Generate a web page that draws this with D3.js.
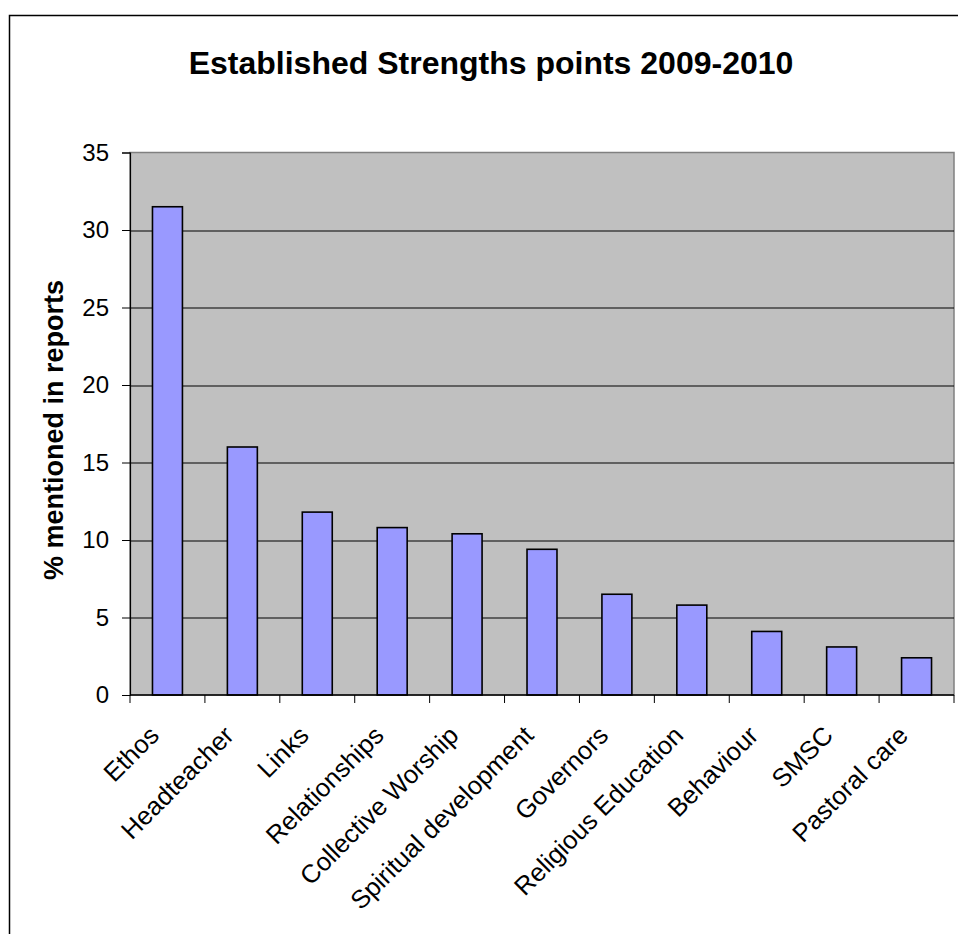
<!DOCTYPE html>
<html>
<head>
<meta charset="utf-8">
<title>Established Strengths points 2009-2010</title>
<script src="https://cdn.jsdelivr.net/npm/d3@7"></script>
<style>
  body { margin: 0; background: #fff; }
  svg { display: block; font-family: "Liberation Sans", Arial, sans-serif; }
</style>
</head>
<body>
<svg id="chart" width="958" height="934"></svg>
<script>
var categories = ["Ethos", "Headteacher", "Links", "Relationships", "Collective Worship",
  "Spiritual development", "Governors", "Religious Education", "Behaviour", "SMSC", "Pastoral care"];
var values = [31.5, 16.0, 11.8, 10.8, 10.4, 9.4, 6.5, 5.8, 4.1, 3.1, 2.4];
var yTicks = [0, 5, 10, 15, 20, 25, 30, 35];

var svg = d3.select("#chart"),
    margin = {top: 152.5, right: 4, bottom: 239, left: 130},
    width = +svg.attr("width") - margin.left - margin.right,
    height = +svg.attr("height") - margin.top - margin.bottom;

// outer chart frame, runs off the right and bottom edges
svg.append("rect")
    .attr("x", 9.5).attr("y", 15.5)
    .attr("width", 1000).attr("height", 1000)
    .attr("fill", "#fff")
    .attr("stroke", "#000")
    .attr("stroke-width", 1.5);

svg.append("text")
    .attr("x", 491).attr("y", 74)
    .attr("text-anchor", "middle")
    .attr("font-size", 32)
    .attr("font-weight", "bold")
    .text("Established Strengths points 2009-2010");

var g = svg.append("g").attr("transform", "translate(" + margin.left + "," + margin.top + ")");

var x = d3.scaleBand()
    .domain(categories)
    .range([0, width])
    .paddingInner(0.6)
    .paddingOuter(0.3);

var y = d3.scaleLinear()
    .domain([0, 35])
    .range([height, 0]);

// plot area
g.append("rect")
    .attr("width", width).attr("height", height)
    .attr("fill", "#c0c0c0")
    .attr("stroke", "#808080")
    .attr("stroke-width", 1.5);

g.selectAll("line.grid")
  .data(yTicks.filter(function(d) { return d > 0 && d < 35; }))
  .enter().append("line")
    .attr("class", "grid")
    .attr("x1", 0).attr("x2", width)
    .attr("y1", function(d) { return Math.round(y(d)) + 0.5; })
    .attr("y2", function(d) { return Math.round(y(d)) + 0.5; })
    .attr("stroke", "#000")
    .attr("stroke-width", 1);

g.selectAll("rect.bar")
  .data(values)
  .enter().append("rect")
    .attr("class", "bar")
    .attr("x", function(d, i) { return x(categories[i]); })
    .attr("y", function(d) { return y(d); })
    .attr("width", x.bandwidth())
    .attr("height", function(d) { return height - y(d); })
    .attr("fill", "#9999ff")
    .attr("stroke", "#000")
    .attr("stroke-width", 1.6);

// y axis
var yAxis = g.append("g")
    .call(d3.axisLeft(y).tickValues(yTicks).tickSize(8).tickPadding(13));
yAxis.select(".domain").attr("stroke", "#000").attr("stroke-width", 1.2);
yAxis.selectAll("text").attr("font-size", 24).attr("fill", "#000").attr("font-family", null);
yAxis.attr("font-family", null);

// x axis: ticks sit on the band boundaries
var boundaries = categories.map(function(c) { return x(c) - x.step() * x.paddingInner() / 2; });
boundaries.push(width);
var xAxis = g.append("g").attr("transform", "translate(0," + height + ")");
xAxis.append("line")
    .attr("x1", 0).attr("x2", width)
    .attr("stroke", "#000").attr("stroke-width", 1.5);
xAxis.selectAll("line.tick")
  .data(boundaries)
  .enter().append("line")
    .attr("class", "tick")
    .attr("x1", function(d) { return d; }).attr("x2", function(d) { return d; })
    .attr("y1", 0).attr("y2", 8)
    .attr("stroke", "#000");

xAxis.selectAll("text")
  .data(categories)
  .enter().append("text")
    .attr("transform", function(d) {
      return "translate(" + (x(d) + x.bandwidth() / 2 - 7) + ",42) rotate(-45)";
    })
    .attr("text-anchor", "end")
    .attr("font-size", 25.6)
    .text(function(d) { return d; });

svg.append("text")
    .attr("transform", "translate(63,430) rotate(-90)")
    .attr("text-anchor", "middle")
    .attr("font-size", 27)
    .attr("font-weight", "bold")
    .text("% mentioned in reports");
</script>
</body>
</html>
